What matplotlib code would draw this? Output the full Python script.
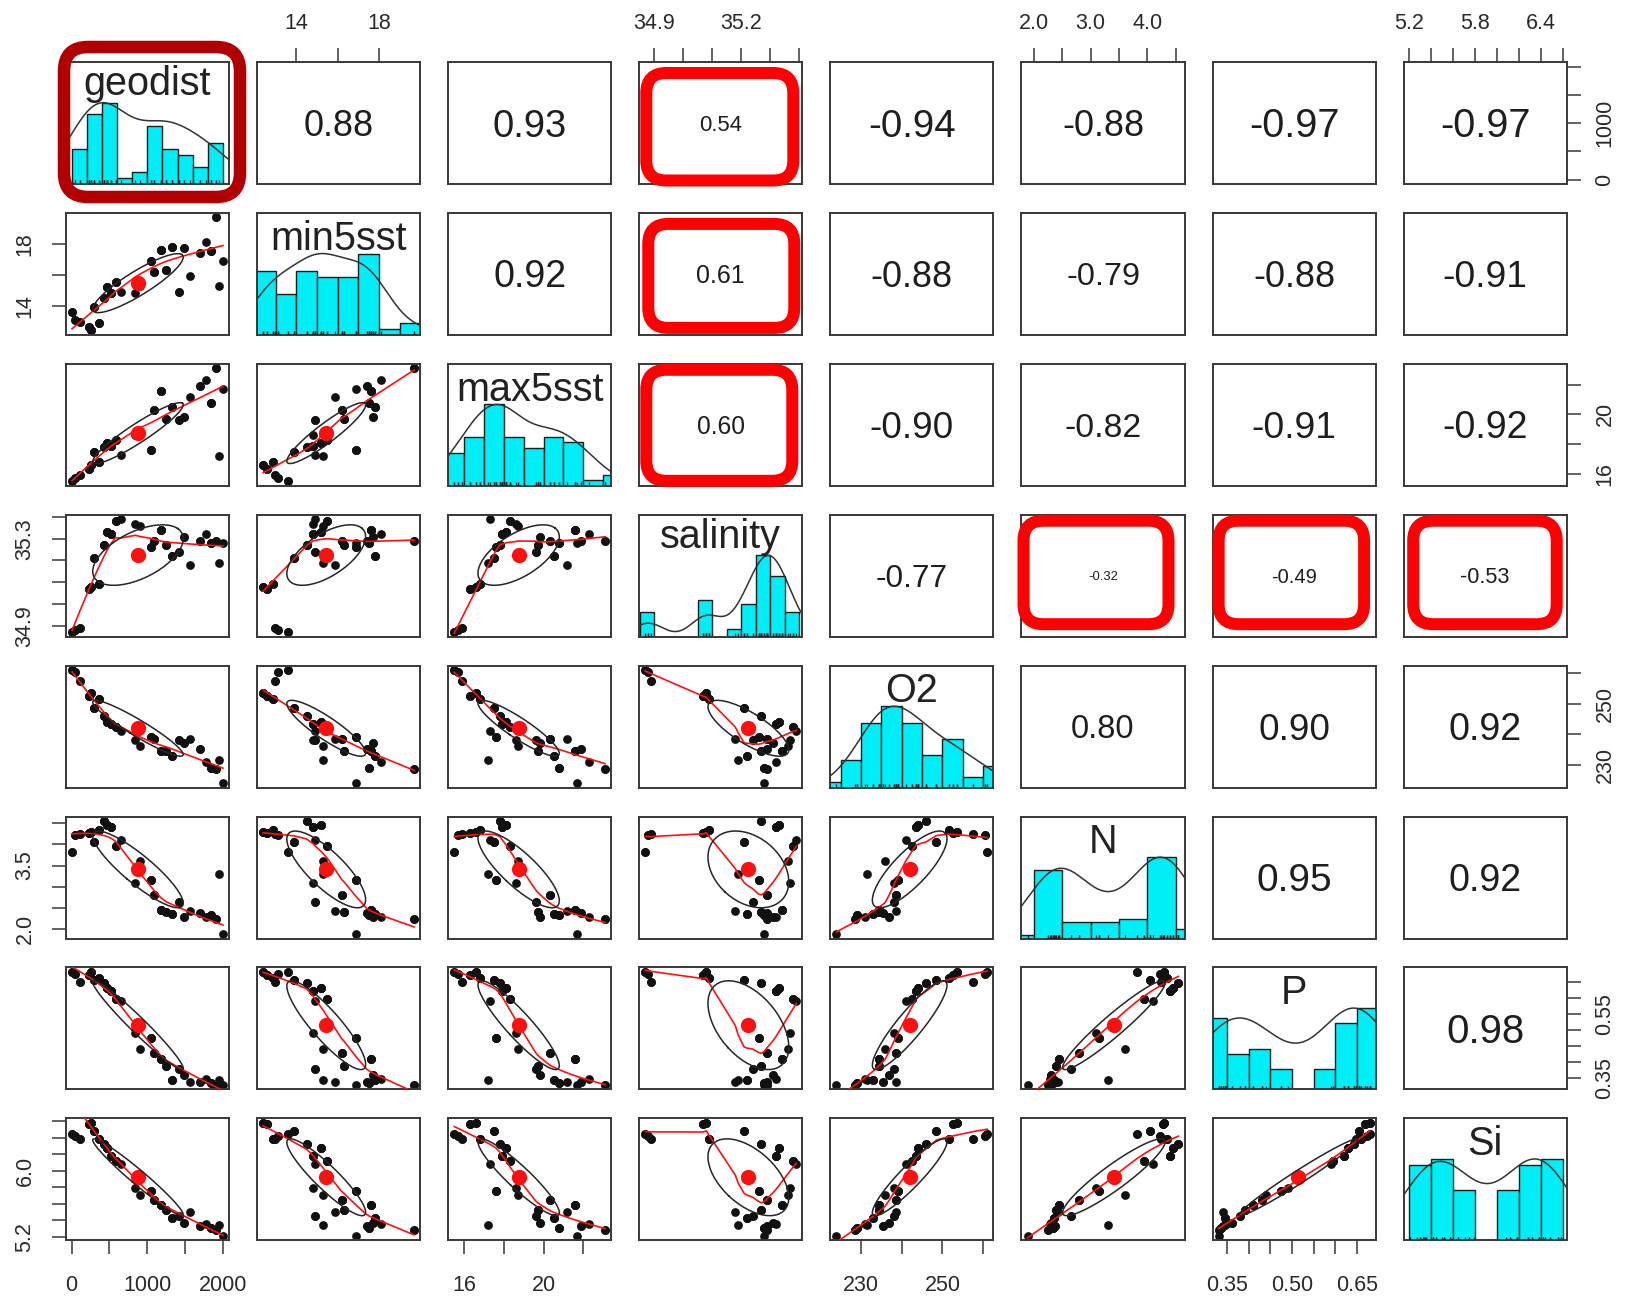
import matplotlib
matplotlib.use("Agg")
import matplotlib.pyplot as plt
import matplotlib.patches as mpatches
import matplotlib.transforms as mtransforms
import numpy as np

plt.rcParams["font.family"] = ["Liberation Sans", "DejaVu Sans"]

INK = "#1e1e1e"
FRAME = "#383838"
HIST_FILL = "#00eef5"
SMOOTH = "#ff1010"
BOX_RED = "#ff0000"
BOX_DARK = "#b20000"

names = ["geodist", "min5sst", "max5sst", "salinity", "O2", "N", "P", "Si"]

# values per sampling site; each site was sampled n_samples times
geodist = [5, 40, 110, 230, 260, 300, 360, 430, 470, 520, 580, 650, 840, 900,
           1050, 1090, 1180, 1250, 1330, 1420, 1490, 1570, 1690, 1770, 1840, 1910, 1950, 2000]
min5sst = [13.6, 13.1, 12.95, 12.6, 12.4, 13.9, 12.9, 14.5, 15.2, 14.8, 15.5, 14.9, 14.8, 15.3,
           16.9, 16.2, 17.6, 16.3, 17.8, 14.9, 17.7, 15.9, 17.4, 18.1, 17.5, 19.7, 15.3, 16.9]
max5sst = [15.5, 15.7, 15.9, 16.3, 16.6, 17.5, 16.8, 17.8, 18.1, 17.9, 18.3, 17.3, 18.6, 18.7,
           17.6, 20.3, 21.6, 19.7, 20.5, 19.6, 19.8, 21.2, 21.9, 22.3, 20.8, 23.1, 17.2, 21.7]
salinity = [34.87, 34.88, 34.89, 35.07, 35.08, 35.21, 35.09, 35.27, 35.33, 35.32, 35.38, 35.39, 35.37, 35.36,
            35.26, 35.29, 35.34, 35.27, 35.22, 35.24, 35.31, 35.18, 35.29, 35.32, 35.28, 35.29, 35.19, 35.28]
O2 = [261.0, 260.5, 257.5, 252.5, 253.5, 248.5, 251.5, 246.0, 244.0, 243.5, 242.5, 241.0, 238.0, 236.0,
      239.0, 238.5, 234.5, 234.5, 233.0, 238.0, 237.0, 238.5, 235.3, 231.0, 229.0, 228.5, 231.5, 224.0]
N = [3.82, 4.22, 4.25, 4.27, 4.30, 4.05, 4.35, 4.55, 4.45, 4.40, 3.95, 4.10, 3.10, 3.60,
     3.15, 2.80, 2.45, 2.40, 2.35, 2.65, 2.30, 2.42, 2.38, 2.28, 2.33, 2.25, 3.30, 1.89]
P = [0.680, 0.675, 0.648, 0.670, 0.680, 0.655, 0.660, 0.645, 0.630, 0.620, 0.595, 0.590, 0.490, 0.440,
     0.475, 0.430, 0.410, 0.390, 0.345, 0.380, 0.360, 0.340, 0.340, 0.348, 0.335, 0.330, 0.345, 0.330]
Si = [6.44, 6.42, 6.38, 6.56, 6.58, 6.48, 6.38, 6.32, 6.28, 6.18, 6.12, 6.08, 5.79, 5.71,
      5.75, 5.65, 5.58, 5.52, 5.42, 5.45, 5.36, 5.50, 5.33, 5.35, 5.30, 5.28, 5.34, 5.21]
n_samples = [2, 2, 2, 3, 3, 3, 3, 3, 4, 4, 3, 1, 1, 1,
             3, 3, 4, 3, 3, 2, 2, 1, 2, 1, 3, 2, 1, 1]

# correlations printed above the diagonal, one list per row
cor_upper = [
    [0.88, 0.93, 0.54, -0.94, -0.88, -0.97, -0.97],
    [0.92, 0.61, -0.88, -0.79, -0.88, -0.91],
    [0.60, -0.90, -0.82, -0.91, -0.92],
    [-0.77, -0.32, -0.49, -0.53],
    [0.80, 0.90, 0.92],
    [0.95, 0.92],
    [0.98],
]

# axis ticks per variable, with labels for horizontal and vertical axes
tick_values = [
    [0, 500, 1000, 1500, 2000],
    [14, 16, 18],
    [16, 18, 20, 22],
    [34.9, 35.0, 35.1, 35.2, 35.3, 35.4],
    [230, 240, 250, 260],
    [2.0, 2.5, 3.0, 3.5, 4.0, 4.5],
    [0.35, 0.40, 0.45, 0.50, 0.55, 0.60, 0.65],
    [5.2, 5.4, 5.6, 5.8, 6.0, 6.2, 6.4, 6.6],
]
x_tick_text = [
    ["0", "", "1000", "", "2000"],
    ["14", "", "18"],
    ["16", "", "20", ""],
    ["34.9", "", "", "35.2", "", ""],
    ["230", "", "250", ""],
    ["2.0", "", "3.0", "", "4.0", ""],
    ["0.35", "", "", "0.50", "", "", "0.65"],
    ["5.2", "", "", "5.8", "", "", "6.4", ""],
]
y_tick_text = [
    ["0", "", "1000", "", ""],
    ["14", "", "18"],
    ["16", "", "20", ""],
    ["34.9", "", "", "", "35.3", ""],
    ["230", "", "250", ""],
    ["2.0", "", "", "3.5", "", ""],
    ["0.35", "", "", "", "0.55", "", ""],
    ["5.2", "", "", "", "6.0", "", "", ""],
]

# hand-drawn highlight frames: (row, col, inset left, right, top, bottom) in px
red_boxes = [
    (0, 3, 7, 9, 11, 3.5),
    (1, 3, 9, 8, 11, 7),
    (2, 3, 7, 10, 6, 5),
    (3, 5, 2, 16, 6, 12.5),
    (3, 6, 6, 11.5, 6, 12.5),
    (3, 7, 9.5, 10, 6, 12.5),
]
dark_box = (0, 0, -2, -11, -15, -13)

W, H = 1625, 1296
LEFT, TOP = 66, 62
STEP_X, STEP_Y = 191.1, 150.9
PW, PH = 163, 122


def panel_px(i, j):
    x0 = LEFT + j * STEP_X
    y0 = TOP + i * STEP_Y
    return x0, y0, x0 + PW, y0 + PH


def lowess(x, y, f=2 / 3, iters=3):
    o = np.argsort(x, kind="mergesort")
    x = np.asarray(x, float)[o]
    y = np.asarray(y, float)[o]
    n = len(x)
    ns = max(min(int(f * n + 1e-7), n), 2)
    rng = x[-1] - x[0]
    rw = np.ones(n)
    fit = np.zeros(n)
    for it in range(iters + 1):
        for i in range(n):
            d = np.abs(x - x[i])
            h = np.sort(d)[ns - 1]
            if h > 0:
                w = np.where(d <= 0.999 * h, (1 - np.clip(d / h, 0, 1) ** 3) ** 3, 0.0)
                w[d <= 0.001 * h] = 1.0
            else:
                w = (d == 0).astype(float)
            w = w * rw
            a = w.sum()
            if a <= 0:
                fit[i] = y[i]
                continue
            w = w / a
            if h > 0:
                xm = (w * x).sum()
                c = (w * (x - xm) ** 2).sum()
                if np.sqrt(c) > 0.001 * rng:
                    b = (x[i] - xm) / c
                    w = w * (b * (x - xm) + 1)
            fit[i] = (w * y).sum()
        if it == iters:
            break
        res = np.abs(y - fit)
        cmad = 6 * np.median(res)
        if cmad < 1e-7 * res.mean():
            break
        rw = np.where(res <= 0.001 * cmad, 1.0,
                      np.where(res <= 0.999 * cmad, (1 - (res / cmad) ** 2) ** 2, 0.0))
    return x, fit


def density_curve(v):
    q75, q25 = np.percentile(v, [75, 25])
    bw = 1.06 * min(v.std(ddof=1), (q75 - q25) / 1.34) * len(v) ** -0.2 * 1.2
    grid = np.linspace(v.min() - 3 * bw, v.max() + 3 * bw, 512)
    dens = np.exp(-0.5 * ((grid[:, None] - v[None, :]) / bw) ** 2).sum(axis=1)
    return grid, dens / dens.max()


def sturges_breaks(v):
    k = int(np.ceil(np.log2(len(v)) + 1))
    lo, hi = v.min(), v.max()
    cell = (hi - lo) / k
    U = 10 ** np.floor(np.log10(cell))
    unit = U
    if 2 * U - cell < 1.5 * (cell - unit):
        unit = 2 * U
        if 5 * U - cell < 2.75 * (cell - unit):
            unit = 5 * U
            if 10 * U - cell < 1.5 * (cell - unit):
                unit = 10 * U
    start = np.floor(lo / unit + 1e-7) * unit
    stop = np.ceil(hi / unit - 1e-7) * unit
    return np.arange(start, stop + unit / 2, unit)


def ellipse_xy(xm, ym, xs, ys, r, seg=51):
    a = np.linspace(0, 2 * np.pi, seg + 1)
    t = np.sign(r) / np.sqrt(2) if r != 0 else 1 / np.sqrt(2)
    p, q = np.sqrt(1 + r), np.sqrt(1 - r)
    ex = np.cos(a) * p * t - np.sin(a) * q * t
    ey = np.cos(a) * p * t + np.sin(a) * q * t
    return ex * xs + xm, ey * ys + ym


data = np.column_stack([np.repeat(np.array(v, float), n_samples)
                        for v in (geodist, min5sst, max5sst, salinity, O2, N, P, Si)])
nv = data.shape[1]

lims = []
for k in range(nv):
    lo, hi = data[:, k].min(), data[:, k].max()
    ext = 0.04 * (hi - lo)
    lims.append((lo - ext, hi + ext))

r_full = np.eye(nv)
for i, row in enumerate(cor_upper):
    for k, val in enumerate(row):
        j = i + 1 + k
        r_full[i, j] = r_full[j, i] = val

fig = plt.figure(figsize=(W / 100, H / 100), dpi=100, facecolor="white")


def glyph_centered(ax, x, y, s, fs, center_em, **kw):
    # place the baseline so that the visible glyphs sit centred on (x, y)
    off = mtransforms.ScaledTranslation(0, -center_em * fs / 72, fig.dpi_scale_trans)
    ax.text(x, y, s, transform=ax.transAxes + off, ha="center", va="baseline",
            fontsize=fs, **kw)


tick_kw = dict(direction="out", length=10, width=1.1, color=FRAME,
               labelsize=15.5, labelcolor="#2a2a2a")

for i in range(nv):
    for j in range(nv):
        x0, y0, x1, y1 = panel_px(i, j)
        ax = fig.add_axes([x0 / W, 1 - y1 / H, PW / W, PH / H])
        for s in ax.spines.values():
            s.set_color(FRAME)
            s.set_linewidth(1.4)
        ax.set_xticks([])
        ax.set_yticks([])

        if i == j:
            v = data[:, i]
            br = sturges_breaks(v)
            counts, _ = np.histogram(v, br)
            ax.bar(br[:-1], counts / counts.max(), width=np.diff(br), align="edge",
                   color=HIST_FILL, edgecolor=INK, linewidth=1.0, zorder=2)
            gx, gy = density_curve(v)
            ax.plot(gx, gy, color="#333333", lw=1.1, zorder=3)
            ax.vlines(v, 0, 0.045, color=INK, lw=0.9, zorder=3)
            low = any(c in "gjpqy" for c in names[i])
            glyph_centered(ax, 0.5, 0.815, names[i], 28.5, 0.26 if low else 0.36,
                           color="#222222", zorder=4)
        elif i < j:
            r = r_full[i, j]
            glyph_centered(ax, 0.5, 0.5, f"{r:.2f}", 29.5 * abs(r), 0.358, color=INK)
        else:
            x, y = data[:, j], data[:, i]
            ax.plot(x, y, "o", ms=6.3, color="#111111", mew=0, zorder=2)
            lx, ly = lowess(x, y)
            ax.plot(lx, ly, color=SMOOTH, lw=1.2, zorder=3)
            xm, ym = x.mean(), y.mean()
            ex, ey = ellipse_xy(xm, ym, x.std(ddof=1), y.std(ddof=1), r_full[i, j])
            ax.plot(xm, ym, "o", ms=11, color=SMOOTH, mew=0, zorder=4)
            ax.plot(ex, ey, color="#262626", lw=1.1, zorder=4)

        # outer axes, alternating sides as in a pairs plot
        if i == 0 and j % 2 == 1:
            ax.set_xticks(tick_values[j])
            ax.set_xticklabels(x_tick_text[j])
            ax.tick_params(axis="x", top=True, labeltop=True, bottom=False,
                           labelbottom=False, pad=10.5, **tick_kw)
        if i == nv - 1 and j % 2 == 0:
            ax.set_xticks(tick_values[j])
            ax.set_xticklabels(x_tick_text[j])
            ax.tick_params(axis="x", pad=15, **tick_kw)
        if j == 0 and i % 2 == 1:
            ax.set_yticks(tick_values[i])
            ax.set_yticklabels(y_tick_text[i])
            ax.tick_params(axis="y", labelrotation=90, pad=12, **tick_kw)
            for t in ax.get_yticklabels():
                t.set_va("center")
        if j == nv - 1 and i % 2 == 0:
            ax.set_yticks(tick_values[i])
            ax.set_yticklabels(y_tick_text[i])
            ax.tick_params(axis="y", left=False, labelleft=False, right=True,
                           labelright=True, labelrotation=90, pad=10, **tick_kw)
            for t in ax.get_yticklabels():
                t.set_va("center")
        ax.set_xlim(lims[j])
        ax.set_ylim((0, 1.5) if i == j else lims[i])


def rounded_box(left, top, right, bottom, color, lw_px, radius):
    patch = mpatches.FancyBboxPatch(
        (left, H - bottom), right - left, bottom - top,
        boxstyle=f"round,pad=0,rounding_size={radius}",
        transform=mtransforms.IdentityTransform(), fill=False,
        edgecolor=color, linewidth=lw_px * 72 / 100, zorder=20)
    fig.add_artist(patch)


for (bi, bj, il, ir, it, ib) in red_boxes:
    x0, y0, x1, y1 = panel_px(bi, bj)
    rounded_box(x0 + il, y0 + it, x1 - ir, y1 - ib, BOX_RED, 12, 20)

bi, bj, il, ir, it, ib = dark_box
x0, y0, x1, y1 = panel_px(bi, bj)
rounded_box(x0 + il, y0 + it, x1 - ir, y1 - ib, BOX_DARK, 12.5, 24)

fig.savefig("out.png", dpi=100, facecolor="white")
